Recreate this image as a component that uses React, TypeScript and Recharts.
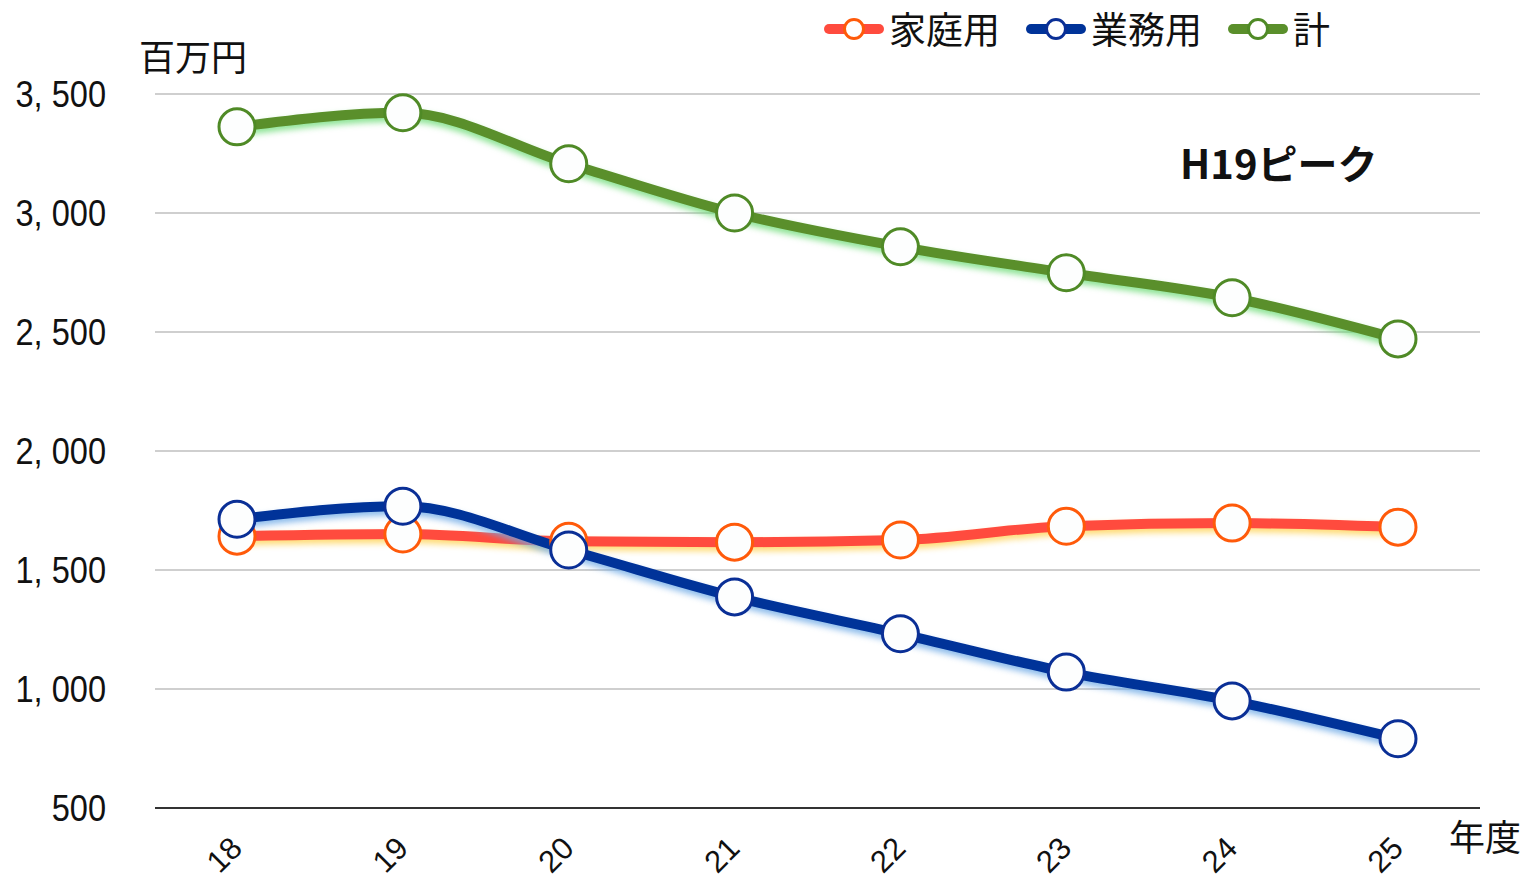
import { LineChart, Line, XAxis, YAxis, CartesianGrid, Legend } from 'recharts'

const years = ['18', '19', '20', '21', '22', '23', '24', '25']
const katei = [1642, 1651, 1621, 1617, 1626, 1684, 1697, 1680]
const gyomu = [1713, 1768, 1584, 1387, 1232, 1071, 950, 791]
const total = [3362, 3421, 3207, 3000, 2858, 2749, 2644, 2471]
const yTicks = [500, 1000, 1500, 2000, 2500, 3000, 3500]

const data = years.map((y, i) => ({
  year: y,
  katei: katei[i],
  gyomu: gyomu[i],
  total: total[i],
}))

const series = [
  { key: 'katei', name: '家庭用', line: '#ff4b3e', dot: '#ff5a0a', glow: 'rgba(255,210,80,0.8)' },
  { key: 'gyomu', name: '業務用', line: '#003399', dot: '#0a2f96', glow: 'rgba(110,170,230,0.8)' },
  { key: 'total', name: '計', line: '#5a8f2b', dot: '#4f8a26', glow: 'rgba(110,220,120,0.8)' },
]

const jp = "'Noto Sans CJK JP', sans-serif"
const sans = "'Liberation Sans', Arial, sans-serif"

const fmt = (v: number) => (v >= 1000 ? `${Math.floor(v / 1000)}, ${String(v % 1000).padStart(3, '0')}` : String(v))

function YTick({ x, y, payload }: any) {
  const tx = x - 41
  return (
    <text
      x={0}
      y={0}
      textAnchor="end"
      fontSize={37}
      fontFamily={sans}
      fill="#111"
      transform={`translate(${tx} ${y + 13}) scale(0.88 1)`}
    >
      {fmt(payload.value)}
    </text>
  )
}

function XTick({ x, y, payload }: any) {
  const ax = x + 7
  const ay = y + 34
  return (
    <text
      x={ax}
      y={ay}
      textAnchor="end"
      fontSize={31}
      fontFamily={sans}
      fill="#111"
      transform={`rotate(-45 ${ax} ${ay})`}
    >
      {payload.value}
    </text>
  )
}

function LegendBox() {
  return (
    <div style={{ display: 'flex', alignItems: 'center', fontFamily: jp, fontSize: 37, color: '#111', lineHeight: 1 }}>
      {series.map((s) => (
        <div key={s.key} style={{ display: 'flex', alignItems: 'center', marginRight: 26 }}>
          <svg width={60} height={26} style={{ marginRight: 5 }}>
            <line x1={5} y1={13} x2={55} y2={13} stroke={s.line} strokeWidth={10} strokeLinecap="round" />
            <circle cx={30} cy={13} r={9.5} fill="#fff" stroke={s.dot} strokeWidth={3} />
          </svg>
          <span>{s.name}</span>
        </div>
      ))}
    </div>
  )
}

export default function App() {
  return (
    <div style={{ position: 'absolute', left: 0, top: 0, width: 1534, height: 878, background: '#fff' }}>
      <style>{series.map((s) => `.ln-${s.key}{filter:drop-shadow(0 4px 3px ${s.glow});}`).join('\n')}</style>
      <LineChart width={1534} height={878} data={data} margin={{ top: 57, right: 54, left: 0, bottom: 0 }}>
        <CartesianGrid vertical={false} stroke="#bfbfbf" strokeWidth={1.5} />
        <XAxis
          dataKey="year"
          height={70}
          padding={{ left: 82, right: 82 }}
          tickLine={false}
          stroke="#333"
          strokeWidth={2}
          tick={<XTick />}
        />
        <YAxis
          width={155}
          domain={[500, 3500]}
          ticks={yTicks}
          axisLine={false}
          tickLine={false}
          tick={<YTick />}
        />
        <Legend
          verticalAlign="top"
          wrapperStyle={{ top: 10, left: 824, width: 'auto' }}
          content={() => <LegendBox />}
        />
        {series.map((s) => (
          <Line
            key={s.key}
            className={`ln-${s.key}`}
            dataKey={s.key}
            name={s.name}
            type="monotone"
            stroke={s.line}
            strokeWidth={10}
            dot={{ r: 18, fill: '#fdfefe', stroke: s.dot, strokeWidth: 3 }}
            activeDot={false}
            isAnimationActive={false}
          />
        ))}
        <text x={139} y={71} fontSize={36} fontFamily={jp} fill="#111">百万円</text>
        <text x={1449} y={851} fontSize={36} fontFamily={jp} fill="#111">年度</text>
        <text x={1180} y={179} fontSize={40} fontWeight="bold" fontFamily={jp} fill="#111">H19ピーク</text>
      </LineChart>
    </div>
  )
}
